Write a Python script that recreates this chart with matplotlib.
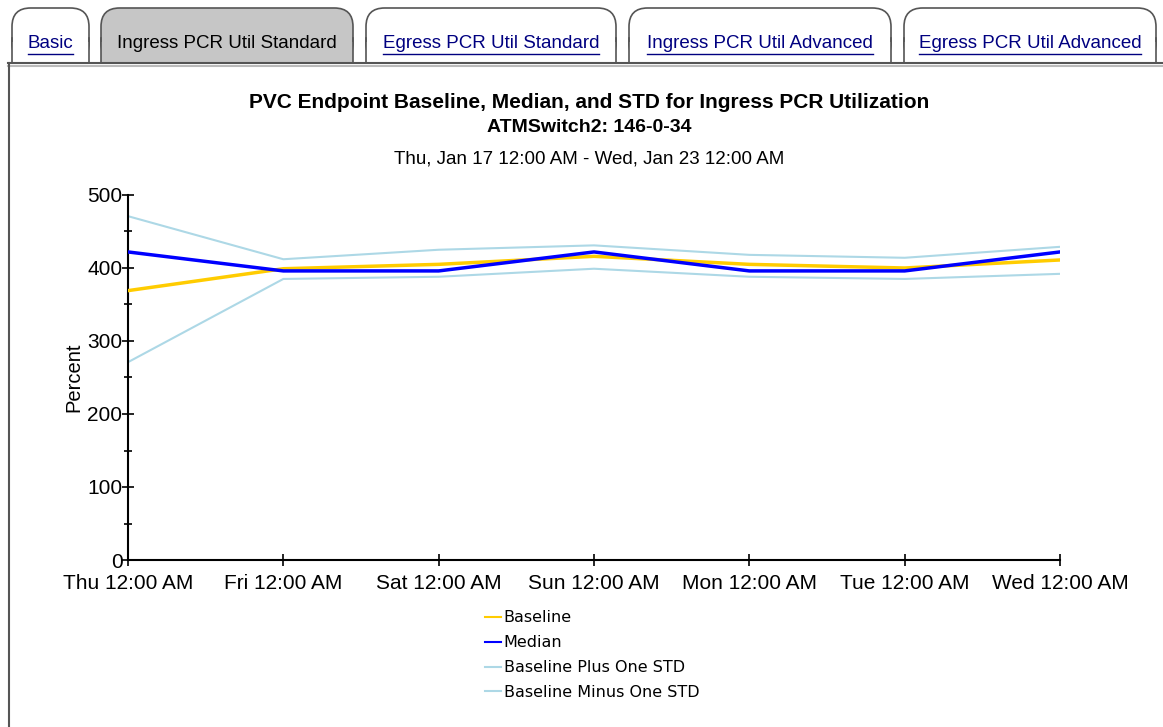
import matplotlib.pyplot as plt
import matplotlib.patches as mpatches
from matplotlib.lines import Line2D
from matplotlib.ticker import MultipleLocator

# Daily samples, Thu 12:00 AM .. Wed 12:00 AM
days = ["Thu 12:00 AM", "Fri 12:00 AM", "Sat 12:00 AM", "Sun 12:00 AM",
        "Mon 12:00 AM", "Tue 12:00 AM", "Wed 12:00 AM"]
baseline = [369, 399, 405, 416, 405, 400, 411]
median = [422, 396, 396, 422, 396, 396, 422]
plus_std = [471, 412, 425, 431, 418, 414, 429]
minus_std = [271, 385, 388, 399, 388, 385, 392]

tab_names = ["Basic", "Ingress PCR Util Standard", "Egress PCR Util Standard",
             "Ingress PCR Util Advanced", "Egress PCR Util Advanced"]
active_tab = 1

plt.rcParams['font.family'] = ['Liberation Sans', 'DejaVu Sans']

W, H = 1163, 727
fig = plt.figure(figsize=(W / 100, H / 100), dpi=100)
fig.patch.set_facecolor("white")

def fx(px):
    return px / W

def fy(py):
    return 1 - py / H

# --- tab strip ---
tab_edges = [(8, 93), (97, 357), (362, 620), (625, 895), (900, 1160)]
for i, ((x0, x1), name) in enumerate(zip(tab_edges, tab_names)):
    face = "#c6c6c6" if i == active_tab else "white"
    box = mpatches.FancyBboxPatch((fx(x0 + 4), fy(62)), fx(x1 - x0 - 8), (62 - 8) / H,
                                  boxstyle="round,pad=0,rounding_size=0.016",
                                  transform=fig.transFigure, facecolor=face,
                                  edgecolor="#555555", linewidth=1.2, mutation_aspect=1.6)
    fig.add_artist(box)
    # cover the rounded bottom so the tab sits flat on the strip line
    fig.add_artist(mpatches.Rectangle((fx(x0 + 4), fy(62)), fx(x1 - x0 - 8), 20 / H,
                                      transform=fig.transFigure, facecolor=face,
                                      edgecolor="none"))
    for xe in (x0 + 4, x1 - 4):
        fig.add_artist(Line2D([fx(xe), fx(xe)], [fy(62), fy(38)], transform=fig.transFigure,
                              color="#555555", lw=1.2))
    cx = (x0 + x1) / 2
    if i == active_tab:
        fig.text(fx(cx), fy(43), name, ha="center", va="center", fontsize=13.5, color="black")
    else:
        t = fig.text(fx(cx), fy(43), name, ha="center", va="center", fontsize=13.5,
                     color="#000080")
        fig.canvas.draw()
        bb = t.get_window_extent()
        fig.add_artist(Line2D([bb.x0 / W, bb.x1 / W], [fy(54), fy(54)], transform=fig.transFigure,
                              color="#000080", lw=1.0))

# panel border
fig.add_artist(Line2D([fx(8), fx(1163)], [fy(63), fy(63)], transform=fig.transFigure,
                      color="#555555", lw=1.5))
fig.add_artist(Line2D([fx(8), fx(1163)], [fy(66), fy(66)], transform=fig.transFigure,
                      color="#bbbbbb", lw=1.5))
fig.add_artist(Line2D([fx(9), fx(9)], [fy(63), fy(727)], transform=fig.transFigure,
                      color="#555555", lw=1.5))

# --- titles ---
fig.text(fx(589), fy(103), "PVC Endpoint Baseline, Median, and STD for Ingress PCR Utilization",
         ha="center", va="center", fontsize=15, fontweight="bold")
fig.text(fx(589), fy(128), "ATMSwitch2: 146-0-34", ha="center", va="center",
         fontsize=14, fontweight="bold")
fig.text(fx(589), fy(159), "Thu, Jan 17 12:00 AM - Wed, Jan 23 12:00 AM", ha="center",
         va="center", fontsize=13.5)

# --- chart ---
ax = fig.add_axes([fx(128), fy(560), fx(1060 - 128), (560 - 195) / H])
x = list(range(len(days)))
ax.plot(x, plus_std, color="#add8e6", lw=1.5, label="Baseline Plus One STD", zorder=2)
ax.plot(x, minus_std, color="#add8e6", lw=1.5, label="Baseline Minus One STD", zorder=2)
ax.plot(x, baseline, color="#ffcc00", lw=2.5, label="Baseline", zorder=3)
ax.plot(x, median, color="#0000ff", lw=2.5, label="Median", zorder=4)

ax.set_xlim(0, len(days) - 1)
ax.set_ylim(0, 500)
ax.set_xticks(x)
ax.set_xticklabels(days, fontsize=15)
ax.yaxis.set_major_locator(MultipleLocator(100))
ax.yaxis.set_minor_locator(MultipleLocator(50))
ax.tick_params(axis="y", labelsize=15, direction="inout", length=8, width=1.2, pad=0)
ax.tick_params(axis="y", which="minor", direction="inout", length=6, width=1.2)
ax.tick_params(axis="x", direction="inout", length=8, width=1.2, pad=6)
# nudge the "0" label up so it clears the first date label
ax.get_yticklabels()[0].set_verticalalignment("bottom")
for s in ("top", "right"):
    ax.spines[s].set_visible(False)
for s in ("left", "bottom"):
    ax.spines[s].set_linewidth(1.5)
ax.set_ylabel("Percent", fontsize=14.5, labelpad=3)

handles = [Line2D([], [], color="#ffcc00", lw=1.5),
           Line2D([], [], color="#0000ff", lw=1.5),
           Line2D([], [], color="#add8e6", lw=1.5),
           Line2D([], [], color="#add8e6", lw=1.5)]
labels = ["Baseline", "Median", "Baseline Plus One STD", "Baseline Minus One STD"]
fig.legend(handles, labels, loc="upper left", bbox_to_anchor=(fx(471), fy(596)),
           frameon=False, handlelength=0.95, handletextpad=0.2,
           labelspacing=0.62, prop={"family": "DejaVu Sans", "size": 11.5})

fig.savefig("out.png", dpi=100)
